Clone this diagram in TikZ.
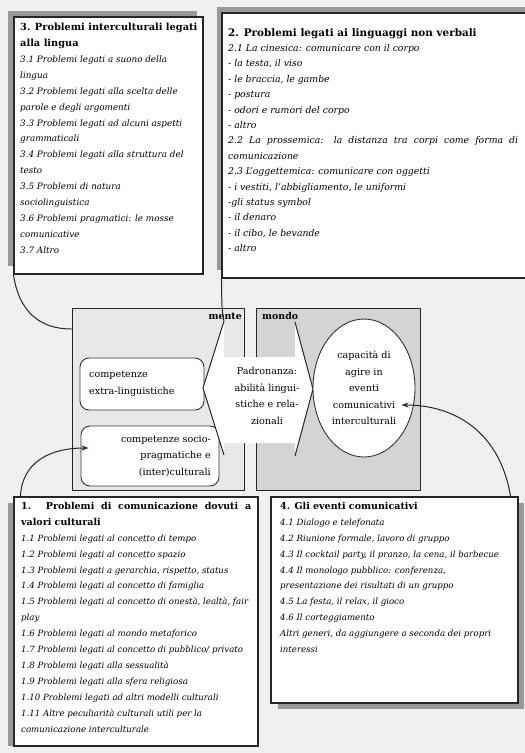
\documentclass[tikz,border=0pt]{standalone}
\usepackage{fontspec}
\setmainfont{DejaVu Serif}
\usepackage{tikz}
\usetikzlibrary{calc,positioning,fit,shapes,arrows,arrows.meta}
\newcommand{\boxhead}[1]{\textbf{\upshape #1}}

\begin{document}
\begin{tikzpicture}[x=1pt,y=-1pt,
  frame/.style={draw=black!85,line width=1.1pt,fill=white,inner sep=0pt},
  shadowband/.style={fill=black!40},
  panel/.style={draw=black!85,line width=.9pt,inner sep=0pt},
  boxtext/.style={anchor=north west,align=left,inner sep=0pt,font=\fontsize{8.6}{15.9}\selectfont\itshape},
  rbox/.style={draw=black!80,line width=.9pt,rounded corners=9pt,fill=white,inner sep=0pt},
  plain/.style={font=\fontsize{9.6}{16.5}\selectfont,inner sep=0pt},
  tail/.style={draw=black!85,line width=1pt},
  pointer/.style={draw=black!85,line width=1pt,-{Stealth[length=7pt,width=5pt]}}]
  \fill[black!6] (0,0) rectangle (525,753);
  \useasboundingbox (0,0) rectangle (525,753);
  \clip (0,0) rectangle (525,753);

  % box 3
  \fill[shadowband] (8,11) rectangle (197,266);
  \coordinate (b3nw) at (14,17);
  \coordinate (b3se) at (203,274);
  \node[frame,fit=(b3nw) (b3se)] (b3) {};
  \node[boxtext,font=\fontsize{8.8}{15.9}\selectfont\itshape] (t3) at (20,23) {\boxhead{\fontsize{9.8}{12}\selectfont 3. Problemi interculturali legati}\\
    \boxhead{\fontsize{9.8}{12}\selectfont alla lingua}\\
    3.1 Problemi legati a suono della\\ lingua\\
    3.2 Problemi legati alla scelta delle\\ parole e degli argomenti\\
    3.3 Problemi legati ad alcuni aspetti\\ grammaticali\\
    3.4 Problemi legati alla struttura del\\ testo\\
    3.5 Problemi di natura\\ sociolinguistica\\
    3.6 Problemi pragmatici: le mosse\\ comunicative\\
    3.7 Altro};

  % box 2
  \fill[shadowband] (217,7) rectangle (540,270);
  \coordinate (b2nw) at (222,13);
  \coordinate (b2se) at (540,278);
  \node[frame,fit=(b2nw) (b2se)] (b2) {};
  \node[boxtext,font=\fontsize{9.3}{15.4}\selectfont\itshape] (t2) at (228,28) {\boxhead{\fontsize{10.4}{12}\selectfont 2. Problemi legati ai linguaggi non verbali}\\
    2.1 La cinesica: comunicare con il corpo\\
    - la testa, il viso\\
    - le braccia, le gambe\\
    - postura\\
    - odori e rumori del corpo\\
    - altro\\
    \makebox[290pt][s]{2.2 La prossemica: la distanza tra corpi come forma di}\\
    comunicazione\\
    2.3 L'oggettemica: comunicare con oggetti\\
    - i vestiti, l'abbigliamento, le uniformi\\
    -gli status symbol\\
    - il denaro\\
    - il cibo, le bevande\\
    - altro};

  % central panels
  \coordinate (mpnw) at (72,308);
  \coordinate (mpse) at (244,490);
  \node[panel,fill=black!9,fit=(mpnw) (mpse)] (mpanel) {};
  \coordinate (wpnw) at (256,308);
  \coordinate (wpse) at (420,490);
  \node[panel,fill=black!17,fit=(wpnw) (wpse)] (wpanel) {};

  \node[rbox,minimum width=124pt,minimum height=52pt] (extra) at (142,384) {};
  \node[plain,align=left,anchor=west] (extratxt) at (89,384) {competenze\\extra-linguistiche};
  \node[rbox,minimum width=138pt,minimum height=60pt] (socio) at (150,456) {};
  \node[plain,align=right,anchor=east] (sociotxt) at (211,456) {competenze socio-\\pragmatiche e\\(inter)culturali};

  % double arrow
  \coordinate (lup) at (224,321);
  \coordinate (ltip) at (203,388);
  \coordinate (llo) at (224,455);
  \coordinate (rup) at (295,322);
  \coordinate (rtip) at (313,389);
  \coordinate (rlo) at (295,456);
  \fill[white] (lup) -- (ltip) -- (llo) -- (224,443) -- (295,443) -- (rlo) -- (rtip)
    -- (rup) -- (295,357) -- (224,357) -- cycle;
  \draw[tail] (lup) -- (ltip) -- (llo);
  \draw[tail] (rup) -- (rtip) -- (rlo);
  \node[plain,align=center] (padr) at (267,396) {Padronanza:\\abilità lingui-\\stiche e rela-\\zionali};
  \node[plain,font=\fontsize{9.4}{12}\selectfont\bfseries,anchor=east] (mente) at (242,316) {mente};
  \node[plain,font=\fontsize{9.4}{12}\selectfont\bfseries,anchor=west] (mondo) at (262,316) {mondo};

  \node[ellipse,draw=black!80,line width=.9pt,fill=white,minimum width=102pt,minimum height=138pt,
    align=center,plain] (capac) at (364,388) {capacità di\\agire in\\eventi\\comunicativi\\interculturali};

  % box 1
  \fill[shadowband] (8,503) rectangle (250,746);
  \coordinate (b1nw) at (14,497);
  \coordinate (b1se) at (258,746);
  \node[frame,fit=(b1nw) (b1se)] (b1) {};
  \node[boxtext] (t1) at (21,502) {\makebox[230pt][s]{\boxhead{\fontsize{9.5}{12}\selectfont 1. Problemi di comunicazione dovuti a}}\\
    \boxhead{\fontsize{9.5}{12}\selectfont valori culturali}\\
    1.1 Problemi legati al concetto di tempo\\
    1.2 Problemi legati al concetto spazio\\
    1.3 Problemi legati a gerarchia, rispetto, status\\
    1.4 Problemi legati al concetto di famiglia\\
    1.5 Problemi legati al concetto di onestà, lealtà, fair\\
    play\\
    1.6 Problemi legati al mondo metaforico\\
    1.7 Problemi legati al concetto di pubblico/ privato\\
    1.8 Problemi legati alla sessualità\\
    1.9 Problemi legati alla sfera religiosa\\
    1.10 Problemi legati ad altri modelli culturali\\
    1.11 Altre peculiarità culturali utili per la\\
    comunicazione interculturale};

  % box 4
  \fill[shadowband] (278,503) rectangle (524,709);
  \coordinate (b4nw) at (271,497);
  \coordinate (b4se) at (518,703);
  \node[frame,fit=(b4nw) (b4se)] (b4) {};
  \node[boxtext] (t4) at (280,502) {\boxhead{\fontsize{9.5}{12}\selectfont 4. Gli eventi comunicativi}\\
    4.1 Dialogo e telefonata\\
    4.2 Riunione formale, lavoro di gruppo\\
    4.3 Il cocktail party, il pranzo, la cena, il barbecue\\
    4.4 Il monologo pubblico: conferenza,\\
    presentazione dei risultati di un gruppo\\
    4.5 La festa, il relax, il gioco\\
    4.6 Il corteggiamento\\
    Altri generi, da aggiungere a seconda dei propri\\
    interessi};

  % tails and pointers
  \draw[tail] (b3.south west) .. controls (19,312) and (40,329) .. (mpanel.west |- 0,329);
  \draw[tail] (b2.south west) .. controls (222,295) and (221,308) .. (lup);
  \draw[pointer] ($(b1.north west)+(7,0)$) .. controls (22,462) and (50,448) .. ($(socio.west)+(8,-8)$);
  \draw[pointer] ($(b4.north east)+(-8,0)$) .. controls (500,432) and (455,405) .. ($(capac.east)+(-14,17)$);
\end{tikzpicture}
\end{document}
